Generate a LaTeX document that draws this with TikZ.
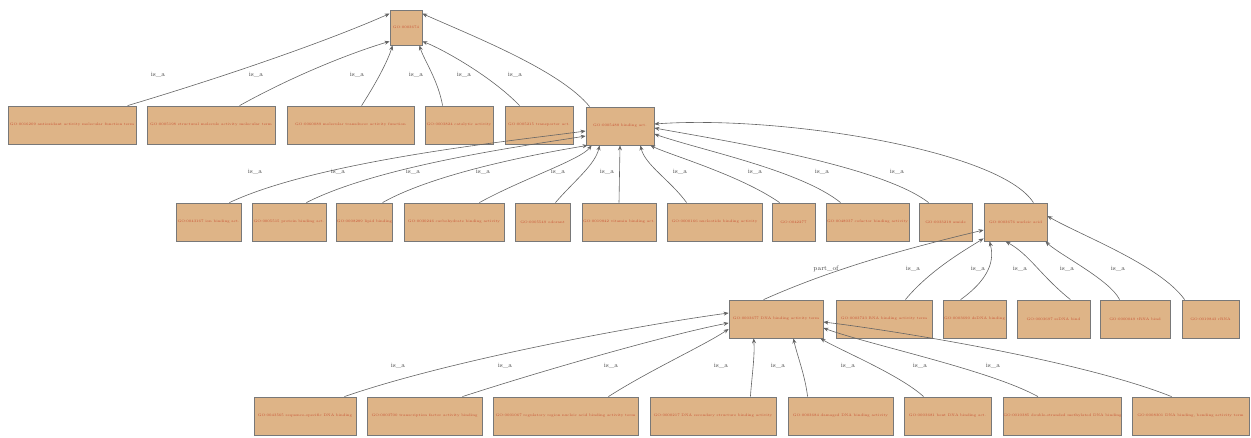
\documentclass[tikz,border=0pt]{standalone}
\usetikzlibrary{arrows.meta}
\definecolor{termfill}{RGB}{222,180,135}
\definecolor{termline}{RGB}{120,120,120}
\definecolor{termtext}{RGB}{200,80,50}
\definecolor{edgeline}{RGB}{100,100,100}
\tikzset{
  term/.style={draw=termline, line width=0.8pt, fill=termfill, inner sep=0pt,
    minimum height=38pt, text=termtext, font=\fontsize{3.6}{4}\selectfont},
  edge/.style={draw=edgeline, line width=0.6pt, -{Stealth[length=5pt,width=4pt]}},
  rel/.style={text=black!75, font=\fontsize{6.5}{7}\selectfont, inner sep=1pt}
}
\begin{document}
\begin{tikzpicture}[x=1pt,y=-1pt]
\useasboundingbox (0,0) rectangle (1251,437);

% ---- root ----
\node[term, minimum width=32pt, minimum height=35pt] (root) at (406,27.5) {GO:0003674};

% ---- first level ----
\node[term, minimum width=128pt] (a1) at (72,125) {GO:0016209 antioxidant activity molecular function term};
\node[term, minimum width=128pt] (a2) at (211,125) {GO:0005198 structural molecule activity molecular term};
\node[term, minimum width=127pt] (a3) at (350.5,125) {GO:0060089 molecular transducer activity function};
\node[term, minimum width=68pt] (a4) at (459,125) {GO:0003824 catalytic activity};
\node[term, minimum width=68pt] (a5) at (539,125) {GO:0005215 transporter act.};
\node[term, minimum width=68pt] (a6) at (620,126) {GO:0005488 binding act.};

% ---- second level ----
\node[term, minimum width=65pt] (b1) at (208.5,222) {GO:0043167 ion binding act.};
\node[term, minimum width=74pt] (b2) at (289,222) {GO:0005515 protein binding act.};
\node[term, minimum width=55pt] (b3) at (364.5,222) {GO:0008289 lipid binding};
\node[term, minimum width=100pt] (b4) at (454,222) {GO:0030246 carbohydrate binding activity};
\node[term, minimum width=55pt] (b5) at (542.5,222) {GO:0005549 odorant};
\node[term, minimum width=74pt] (b6) at (619,222) {GO:0019842 vitamin binding act.};
\node[term, minimum width=95pt] (b7) at (714.5,222) {GO:0000166 nucleotide binding activity};
\node[term, minimum width=43pt] (b8) at (793.5,222) {GO:0042277};
\node[term, minimum width=83pt] (b9) at (867.5,222) {GO:0048037 cofactor binding activity};
\node[term, minimum width=53pt] (b10) at (945.5,222) {GO:0033218 amide};
\node[term, minimum width=63pt] (b11) at (1015.5,222) {GO:0003676 nucleic acid};

% ---- third level ----
\node[term, minimum width=94pt] (c1) at (776,319) {GO:0003677 DNA binding activity term};
\node[term, minimum width=96pt] (c2) at (884,319) {GO:0003723 RNA binding activity term};
\node[term, minimum width=63pt] (c3) at (974.5,319) {GO:0003690 dsDNA binding};
\node[term, minimum width=73pt] (c4) at (1053.5,319) {GO:0003697 ssDNA bind};
\node[term, minimum width=70pt] (c5) at (1135,319) {GO:0000049 tRNA bind};
\node[term, minimum width=57pt] (c6) at (1210.5,319) {GO:0019843 rRNA};

% ---- fourth level ----
\node[term, minimum width=102pt] (d1) at (305,416) {GO:0043565 sequence-specific DNA binding};
\node[term, minimum width=115pt] (d2) at (424.5,416) {GO:0003700 transcription factor activity binding};
\node[term, minimum width=145pt] (d3) at (565.5,416) {GO:0001067 regulatory region nucleic acid binding activity term};
\node[term, minimum width=126pt] (d4) at (713,416) {GO:0000217 DNA secondary structure binding activity};
\node[term, minimum width=105pt] (d5) at (840.5,416) {GO:0003684 damaged DNA binding activity};
\node[term, minimum width=87pt] (d6) at (947.5,416) {GO:0003681 bent DNA binding act.};
\node[term, minimum width=117pt] (d7) at (1062.5,416) {GO:0010385 double-stranded methylated DNA binding};
\node[term, minimum width=117pt] (d8) at (1190.5,416) {GO:0008301 DNA binding, bending activity term};

% ---- edges into the root ----
\draw[edge] ([xshift=120pt]a1.north west) .. controls (230,75) and (330,40) .. ([yshift=-4pt]root.north west);
\draw[edge] ([xshift=93pt]a2.north west) .. controls (300,72) and (360,50) .. ([yshift=4pt]root.south west);
\draw[edge] ([xshift=75pt]a3.north west) .. controls (378,80) and (388,60) .. ([xshift=3pt]root.south west);
\draw[edge] ([xshift=18pt]a4.north west) .. controls (438,80) and (424,60) .. ([xshift=-3pt]root.south east);
\draw[edge] ([xshift=15pt]a5.north west) .. controls (490,75) and (440,48) .. ([yshift=4pt]root.south east);
\draw[edge] ([xshift=4pt]a6.north west) .. controls (560,70) and (470,35) .. ([yshift=-4pt]root.north east);

\node[rel] (l1) at (158,75) {is\_a};
\node[rel] (l2) at (256,75) {is\_a};
\node[rel] (l3) at (357,75) {is\_a};
\node[rel] (l4) at (416,75) {is\_a};
\node[rel] (l5) at (464,75) {is\_a};
\node[rel] (l6) at (515,75) {is\_a};

% ---- edges into binding ----
\draw[edge] ([xshift=-12pt]b1.north east) .. controls (320,160) and (520,140) .. ([yshift=-5pt]a6.west);
\draw[edge] ([xshift=-20pt]b2.north east) .. controls (380,165) and (530,145) .. ([yshift=-10pt]a6.west);
\draw[edge] ([xshift=-10pt]b3.north east) .. controls (440,170) and (560,150) .. ([xshift=2pt]a6.south west);
\draw[edge] ([xshift=-25pt]b4.north east) .. controls (520,180) and (580,160) .. ([xshift=6pt]a6.south west);
\draw[edge] ([xshift=-15pt]b5.north east) .. controls (575,180) and (595,165) .. ([xshift=14pt]a6.south west);
\draw[edge] (b6.north) -- (a6.south);
\draw[edge] ([xshift=20pt]b7.north west) .. controls (670,180) and (645,165) .. ([xshift=-14pt]a6.south east);
\draw[edge] ([xshift=8pt]b8.north west) .. controls (740,175) and (670,155) .. ([xshift=-4pt]a6.south east);
\draw[edge] ([xshift=15pt]b9.north west) .. controls (800,170) and (700,150) .. ([yshift=-8pt]a6.east);
\draw[edge] ([xshift=10pt]b10.north west) .. controls (880,165) and (720,140) .. ([yshift=-2pt]a6.east);
\draw[edge] ([xshift=-14pt]b11.north east) .. controls (1000,150) and (780,115) .. ([yshift=2pt]a6.east);

\node[rel] (m1) at (255,172) {is\_a};
\node[rel] (m2) at (338,172) {is\_a};
\node[rel] (m3) at (413,172) {is\_a};
\node[rel] (m4) at (483,172) {is\_a};
\node[rel] (m5) at (558,172) {is\_a};
\node[rel] (m6) at (607,172) {is\_a};
\node[rel] (m7) at (680,172) {is\_a};
\node[rel] (m8) at (755,172) {is\_a};
\node[rel] (m9) at (822,172) {is\_a};
\node[rel] (m10) at (897,172) {is\_a};

% ---- edges into nucleic acid binding ----
\draw[edge] ([xshift=35pt]c1.north west) .. controls (830,270) and (900,250) .. ([yshift=-8pt]b11.west);
\draw[edge] ([xshift=-27pt]c2.north east) .. controls (930,270) and (965,250) .. ([yshift=3pt]b11.south west);
\draw[edge] ([xshift=18pt]c3.north west) .. controls (995,275) and (993,255) .. ([xshift=6pt]b11.south west);
\draw[edge] ([xshift=-20pt]c4.north east) .. controls (1040,275) and (1030,255) .. ([xshift=22pt]b11.south west);
\draw[edge] ([xshift=20pt]c5.north west) .. controls (1110,280) and (1060,255) .. ([xshift=-2pt]b11.south east);
\draw[edge] ([xshift=3pt]c6.north west) .. controls (1160,265) and (1080,235) .. ([yshift=6pt]b11.east);

\node[rel] (n1) at (826,269) {part\_of};
\node[rel] (n2) at (913,269) {is\_a};
\node[rel] (n3) at (978,269) {is\_a};
\node[rel] (n4) at (1020,269) {is\_a};
\node[rel] (n5) at (1067,269) {is\_a};
\node[rel] (n6) at (1118,269) {is\_a};

% ---- edges into DNA binding ----
\draw[edge] ([xshift=-12pt]d1.north east) .. controls (450,360) and (640,325) .. ([yshift=6pt]c1.west);
\draw[edge] ([xshift=-20pt]d2.north east) .. controls (560,365) and (680,332) .. ([yshift=-4pt]c1.west);
\draw[edge] ([xshift=-30pt]d3.north east) .. controls (650,370) and (705,345) .. ([yshift=-10pt]c1.west);
\draw[edge] ([xshift=-26pt]d4.north east) .. controls (752,375) and (755,355) .. ([xshift=25pt]c1.south west);
\draw[edge] ([xshift=20pt]d5.north west) .. controls (805,375) and (797,355) .. ([xshift=-30pt]c1.south east);
\draw[edge] ([xshift=20pt]d6.north west) .. controls (900,375) and (840,350) .. ([xshift=-3pt]c1.south east);
\draw[edge] ([xshift=35pt]d7.north west) .. controls (990,370) and (870,345) .. ([yshift=-9pt]c1.east);
\draw[edge] ([xshift=40pt]d8.north west) .. controls (1080,360) and (890,330) .. ([yshift=-3pt]c1.east);

\node[rel] (p1) at (398,366) {is\_a};
\node[rel] (p2) at (505,366) {is\_a};
\node[rel] (p3) at (611,366) {is\_a};
\node[rel] (p4) at (721,366) {is\_a};
\node[rel] (p5) at (778,366) {is\_a};
\node[rel] (p6) at (848,366) {is\_a};
\node[rel] (p7) at (920,366) {is\_a};
\node[rel] (p8) at (993,366) {is\_a};
\end{tikzpicture}
\end{document}
